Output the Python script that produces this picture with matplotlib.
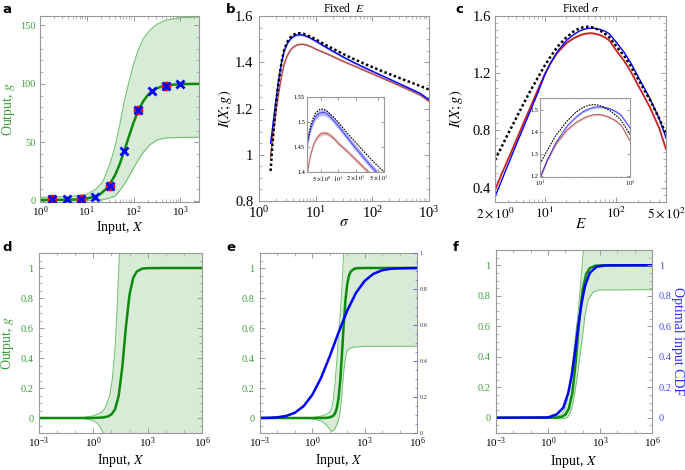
import numpy as np
import matplotlib.pyplot as plt
from matplotlib.ticker import (FixedLocator, FuncFormatter, MultipleLocator,
                               LogFormatterMathtext, NullFormatter)

plt.rcParams['font.family'] = ['Liberation Serif', 'DejaVu Serif']
plt.rcParams['mathtext.fontset'] = 'stix'

# ---------------- data ----------------
# panel a: dose-response curve with its band and the sampled points
a_x = [1, 2, 3, 5, 7, 10, 14, 20, 28, 40, 50, 63, 80, 100, 126, 160, 200,
       250, 320, 400, 500, 700, 1000, 1500, 2500]
a_g = [0.8, 0.84, 0.89, 1.07, 1.37, 2.03, 3.36, 6.24, 11.5, 21.7, 30.9, 42.5,
       55.4, 67.0, 77.1, 85.0, 90.3, 93.8, 96.3, 97.7, 98.6, 99.3, 99.7, 99.9, 100.0]
a_band_x = [1, 3.16, 6.3, 10, 15.8, 22.4, 31.6, 40, 50, 63, 80, 100, 126, 158,
            224, 316, 500, 1000, 2500]
a_upper = [3, 3.5, 4.3, 5.5, 10, 17, 32, 46, 64, 85, 102, 117, 129, 138, 146,
           151, 154.5, 156.5, 157]
a_lower = [0, 0.05, 0.15, 0.3, 0.6, 1.0, 2.5, 4, 8.5, 14, 21, 28, 35, 41, 48,
           52, 53.8, 54.2, 54.3]
a_red_x = [1.8, 7.5, 31, 126, 500]
a_red_g = [1.2, 1.8, 12.5, 77.3, 98.4]
a_blue_x = [1.8, 3.7, 7.5, 15, 31, 62, 126, 250, 500, 1000]
a_blue_g = [1.2, 1.2, 1.8, 2.9, 12.5, 43, 77.3, 93.5, 98.4, 99.5]

# panel b: information vs sigma at fixed E
b_sigma = [1.6, 1.7, 1.8, 2.0, 2.2, 2.5, 2.8, 3.2, 3.6, 4.0, 4.5, 5.0, 5.6,
           6.3, 7.0, 8.0, 9.0, 10, 12, 15, 20, 25, 30, 40, 50, 63, 80, 100,
           150, 200, 300, 500, 700, 1000]
b_black = [0.93, 1.02, 1.10, 1.22, 1.31, 1.40, 1.458, 1.49, 1.508, 1.518,
           1.524, 1.526, 1.525, 1.522, 1.517, 1.511, 1.505, 1.499, 1.488,
           1.475, 1.459, 1.447, 1.437, 1.422, 1.411, 1.400, 1.389, 1.379,
           1.361, 1.349, 1.332, 1.311, 1.297, 1.282]
b_blue = [1.05, 1.10, 1.15, 1.24, 1.315, 1.40, 1.452, 1.484, 1.501, 1.511,
          1.517, 1.519, 1.519, 1.516, 1.512, 1.505, 1.498, 1.492, 1.480,
          1.466, 1.448, 1.435, 1.424, 1.408, 1.396, 1.384, 1.372, 1.361,
          1.341, 1.327, 1.307, 1.282, 1.265, 1.238]
b_red = [0.99, 1.05, 1.10, 1.19, 1.26, 1.34, 1.395, 1.432, 1.453, 1.465,
         1.473, 1.477, 1.478, 1.477, 1.474, 1.469, 1.463, 1.457, 1.449,
         1.439, 1.425, 1.414, 1.405, 1.392, 1.382, 1.371, 1.360, 1.350,
         1.331, 1.318, 1.299, 1.275, 1.258, 1.231]
b_blue_spread = 0.006
b_red_spread = 0.004

# panel c: information vs E at fixed sigma
c_E = [2, 2.5, 3, 4, 5, 6, 8, 10, 12, 15, 20, 25, 30, 35, 40, 45, 50, 60,
       70, 80, 100, 130, 160, 200, 250, 300, 400, 500]
c_black = [0.594, 0.69, 0.77, 0.89, 0.985, 1.06, 1.17, 1.255, 1.315, 1.385,
           1.45, 1.49, 1.512, 1.522, 1.525, 1.522, 1.515, 1.497, 1.475,
           1.452, 1.39, 1.32, 1.25, 1.165, 1.08, 1.01, 0.885, 0.775]
c_blue = [0.337, 0.455, 0.552, 0.705, 0.82, 0.915, 1.065, 1.19, 1.27, 1.352,
          1.428, 1.468, 1.493, 1.506, 1.513, 1.515, 1.514, 1.506, 1.493,
          1.476, 1.418, 1.345, 1.272, 1.183, 1.093, 1.02, 0.885, 0.75]
c_red = [0.384, 0.50, 0.59, 0.735, 0.85, 0.94, 1.085, 1.195, 1.27, 1.345,
         1.41, 1.443, 1.462, 1.474, 1.479, 1.48, 1.477, 1.466, 1.45, 1.43,
         1.36, 1.285, 1.212, 1.122, 1.033, 0.958, 0.818, 0.67]
c_spread = 0.005

# panel d (x given as log10 of input)
d_u = [-3, -1, 0, 0.5, 0.8, 1.0, 1.2, 1.4, 1.6, 1.8, 2.0, 2.2, 2.4, 2.7,
       3.0, 4, 6]
d_g = [0, 0, 0.0003, 0.003, 0.01, 0.024, 0.058, 0.148, 0.34, 0.609, 0.824,
       0.934, 0.977, 0.9956, 0.999, 1, 1]
d_band_u = [-3, -1, -0.5, 0, 0.2, 0.4, 0.55, 0.7, 0.9, 1.05, 1.2, 1.3, 1.4,
            1.45, 1.6, 6]
d_upper = [0, 0.001, 0.004, 0.015, 0.025, 0.035, 0.05, 0.08, 0.15, 0.26,
           0.47, 0.7, 0.98, 1.12, 1.6, 3]
d_lower = [0, -0.001, -0.004, -0.018, -0.033, -0.065, -0.1, -0.2, -0.35,
           -0.5, -0.6, -0.7, -0.8, -0.9, -1, -1]

# panel e
e_u = [-3, 0, 0.5, 0.8, 1.0, 1.2, 1.3, 1.4, 1.5, 1.6, 1.7, 1.8, 1.9, 2.0,
       2.1, 2.2, 2.4, 2.6, 3, 6]
e_g = [0, 0, 0.0002, 0.001, 0.004, 0.015, 0.03, 0.064, 0.13, 0.25, 0.43,
       0.625, 0.788, 0.892, 0.949, 0.976, 0.995, 0.999, 1, 1]
e_cdf_u = [-3, -2.5, -2, -1.5, -1, -0.5, 0, 0.5, 1.0, 1.5, 2.0, 2.5, 3.0,
           3.5, 4.0, 4.5, 5, 6]
e_cdf = [0.0003, 0.0013, 0.0047, 0.0136, 0.035, 0.079, 0.155, 0.268, 0.412,
         0.569, 0.716, 0.834, 0.914, 0.961, 0.985, 0.995, 0.998, 1.0]
e_band_u = [-3, -1, 0, 0.5, 0.8, 1.0, 1.11, 1.2, 1.3, 1.4, 1.45, 1.5, 1.55,
            1.6, 1.65, 1.7, 1.74, 1.8, 1.85, 1.9, 2.0, 2.2, 2.5, 3, 6]
e_upper = [0, 0, 0.003, 0.012, 0.025, 0.04, 0.065, 0.12, 0.23, 0.38, 0.46,
           0.55, 0.62, 0.69, 0.78, 0.88, 0.97, 1.12, 1.25, 1.4, 1.7, 2, 2, 2, 2]
e_lower = [0, -0.001, -0.005, -0.02, -0.045, -0.075, -0.088, -0.085, -0.07,
           -0.045, -0.03, -0.01, 0.01, 0.05, 0.1, 0.16, 0.23, 0.31, 0.36,
           0.4, 0.45, 0.468, 0.474, 0.477, 0.479]

# panel f
f_u = [-3, 0, 0.5, 0.8, 1.0, 1.2, 1.4, 1.6, 1.7, 1.8, 2.0, 2.2, 2.4, 2.7,
       3.0, 4, 6]
f_g = [0, 0.0001, 0.0013, 0.007, 0.02, 0.059, 0.16, 0.365, 0.5, 0.635,
       0.84, 0.941, 0.98, 0.996, 0.999, 1, 1]
f_cdf_u = [-3, 0, 0.5, 0.88, 1.17, 1.36, 1.55, 1.74, 1.94, 2.13, 2.41, 2.8,
           3.3, 6]
f_cdf = [0, 0.002, 0.022, 0.066, 0.164, 0.273, 0.426, 0.6, 0.753, 0.862,
         0.95, 0.99, 0.999, 1]
f_band_u = [-3, 0, 0.5, 0.8, 0.98, 1.1, 1.27, 1.36, 1.5, 1.55, 1.71, 1.74,
            1.88, 1.94, 2.04, 2.13, 2.32, 2.61, 2.99, 6]
f_upper = [0, 0.001, 0.006, 0.025, 0.055, 0.11, 0.23, 0.3, 0.45, 0.5, 0.66,
           0.69, 0.88, 0.96, 1.1, 1.3, 2, 2, 2, 2]
f_lower = [0, -0.002, -0.006, -0.007, -0.004, 0.0, 0.03, 0.055, 0.13, 0.164,
           0.29, 0.317, 0.44, 0.49, 0.58, 0.666, 0.775, 0.825, 0.838, 0.84]

# ---------------- style ----------------
GREEN = '#0b8a0b'
EDGE_GREEN = '#72c172'
FILL_GREEN = '#d7ebd7'
TXT_GREEN = '#3c9e3c'
BLUE = '#0000ff'
RED_B = '#b5524e'
RED_C = '#cc2222'
FRAME = '#9a9a9a'

fmt_g = FuncFormatter(lambda v, p: f'{v:g}')

fig = plt.figure(figsize=(6.85, 4.70), dpi=100)


def add_px(l, t, r, b):
    return fig.add_axes([l / 685, 1 - b / 470, (r - l) / 685, (b - t) / 470])


def style_frame(ax, top=True, right=True):
    for s in ax.spines.values():
        s.set_color(FRAME)
        s.set_linewidth(0.8)
    ax.tick_params(which='both', direction='in', top=top, right=right, color=FRAME)
    ax.tick_params(which='major', length=3.5, width=0.7, pad=2)
    ax.tick_params(which='minor', length=2, width=0.5)


def decade_axis(ax):
    ax.set_xscale('log')
    ax.set_xlim(1e-3, 1e6)
    ax.xaxis.set_major_locator(FixedLocator([1e-3, 1, 1e3, 1e6]))
    ax.xaxis.set_major_formatter(LogFormatterMathtext())
    ax.xaxis.set_minor_locator(FixedLocator([10.0 ** k for k in range(-3, 7)]))
    ax.xaxis.set_minor_formatter(NullFormatter())
    ax.set_ylim(-0.1, 1.1)
    ax.set_yticks([0, 0.2, 0.4, 0.6, 0.8, 1])
    ax.yaxis.set_minor_locator(MultipleLocator(0.05))
    ax.yaxis.set_major_formatter(fmt_g)
    ax.tick_params(axis='x', labelsize=8)
    ax.tick_params(axis='y', labelsize=7.5, labelcolor=TXT_GREEN, pad=4)
    ax.set_xlabel('Input, $X$', fontsize=10)
    ax.xaxis.set_label_coords(0.5, -0.105)


def band_panel(ax, bu, lo, up, gu, g):
    bx = 10.0 ** np.array(bu)
    ax.fill_between(bx, lo, up, color=FILL_GREEN, lw=0)
    ax.plot(bx, up, color=EDGE_GREEN, lw=0.7)
    ax.plot(bx, lo, color=EDGE_GREEN, lw=0.7)
    ax.plot(10.0 ** np.array(gu), g, color=GREEN, lw=1.8)


def inset_style(ins):
    style_frame(ins)
    ins.tick_params(labelsize=4.5, pad=1.5)
    ins.tick_params(which='major', length=2)
    ins.tick_params(which='minor', length=1)


# ---------------- panel a ----------------
ax = add_px(40, 16, 199, 202)
style_frame(ax)
ax.fill_between(a_band_x, a_lower, a_upper, color=FILL_GREEN, lw=0)
ax.plot(a_band_x, a_upper, color=EDGE_GREEN, lw=0.8)
ax.plot(a_band_x, a_lower, color=EDGE_GREEN, lw=0.8)
ax.plot(a_x, a_g, color=GREEN, lw=1.8)
ax.plot(a_red_x, a_red_g, 'o', color='red', ms=6, zorder=4)
ax.plot(a_blue_x, a_blue_g, 'x', color=BLUE, ms=5.5, mew=2, zorder=5)
ax.set_xscale('log')
ax.set_xlim(1, 2500)
ax.set_ylim(-1, 158)
ax.set_yticks([0, 50, 100, 150])
ax.yaxis.set_minor_locator(MultipleLocator(10))
ax.tick_params(axis='y', labelsize=7.5, labelcolor=TXT_GREEN, pad=3)
ax.tick_params(axis='x', labelsize=8)
ax.set_xlabel('Input, $X$', fontsize=10)
ax.xaxis.set_label_coords(0.5, -0.093)
ax.set_ylabel('Output, $g$', fontsize=10, color=TXT_GREEN)
ax.yaxis.set_label_coords(-0.145, 0.5)

# ---------------- panel b ----------------
ax = add_px(259, 16, 429, 201)
style_frame(ax)
bs = np.array(b_sigma)
ax.fill_between(bs, np.array(b_red) - b_red_spread, np.array(b_red) + b_red_spread,
                color=RED_B, alpha=0.3, lw=0)
ax.plot(bs, b_red, color=RED_B, lw=1.1)
ax.fill_between(bs, np.array(b_blue) - b_blue_spread, np.array(b_blue) + b_blue_spread,
                color=BLUE, alpha=0.25, lw=0)
ax.plot(bs, b_blue, color=BLUE, lw=1.0)
ax.plot(bs, b_black, color='black', lw=1.8, ls=(0, (1, 1)))
ax.set_xscale('log')
ax.set_xlim(1, 1000)
ax.set_ylim(0.8, 1.6)
ax.set_yticks([0.8, 1.0, 1.2, 1.4, 1.6])
ax.yaxis.set_minor_locator(MultipleLocator(0.05))
ax.yaxis.set_major_formatter(fmt_g)
ax.tick_params(labelsize=10.5)
ax.tick_params(axis='y', pad=4)
ax.tick_params(axis='x', pad=3)
ax.set_xlabel(r'$\sigma$', fontsize=11)
ax.xaxis.set_label_coords(0.5, -0.08)
ax.set_ylabel(r'$I(X;g)$', fontsize=10.5)
ax.yaxis.set_label_coords(-0.15, 0.5)
ax.set_title(r'Fixed  $E$', fontsize=8.5, pad=3)

ins = add_px(307, 97, 384, 172)
inset_style(ins)
ins.fill_between(bs, np.array(b_red) - b_red_spread, np.array(b_red) + b_red_spread,
                 color=RED_B, alpha=0.35, lw=0)
ins.plot(bs, b_red, color=RED_B, lw=0.8, alpha=0.8)
ins.fill_between(bs, np.array(b_blue) - b_blue_spread, np.array(b_blue) + b_blue_spread,
                 color=BLUE, alpha=0.3, lw=0)
ins.plot(bs, b_blue, color=BLUE, lw=0.6, alpha=0.7)
ins.plot(bs, b_black, color='black', lw=0.8, ls=(0, (1.5, 1)))
ins.set_xscale('log')
ins.set_xlim(2.8, 63)
ins.set_ylim(1.4, 1.55)
ins.xaxis.set_major_locator(FixedLocator([5, 10, 20, 50]))
ins.xaxis.set_major_formatter(FuncFormatter(
    lambda v, p: {5: r'$5\times10^{0}$', 10: r'$10^{1}$', 20: r'$2\times10^{1}$',
                  50: r'$5\times10^{1}$'}.get(int(round(v)), '')))
ins.xaxis.set_minor_formatter(NullFormatter())
ins.set_yticks([1.4, 1.45, 1.5, 1.55])
ins.yaxis.set_major_formatter(fmt_g)

# ---------------- panel c ----------------
ax = add_px(495, 16, 666, 202)
style_frame(ax)
cE = np.array(c_E)
ax.fill_between(cE, np.array(c_red) - c_spread, np.array(c_red) + c_spread,
                color=RED_C, alpha=0.3, lw=0)
ax.plot(cE, c_red, color=RED_C, lw=1.3)
ax.plot(cE, c_blue, color=BLUE, lw=1.0)
ax.plot(cE, c_black, color='black', lw=1.8, ls=(0, (1, 1)))
ax.set_xscale('log')
ax.set_xlim(2, 500)
ax.set_ylim(0.3, 1.6)
ax.set_yticks([0.4, 0.8, 1.2, 1.6])
ax.yaxis.set_minor_locator(MultipleLocator(0.05))
ax.yaxis.set_major_formatter(fmt_g)
ax.xaxis.set_major_locator(FixedLocator([2, 10, 100, 500]))
ax.xaxis.set_major_formatter(FuncFormatter(
    lambda v, p: {2: r'$2\times10^{0}$', 10: r'$10^{1}$', 100: r'$10^{2}$',
                  500: r'$5\times10^{2}$'}.get(int(round(v)), '')))
ax.xaxis.set_minor_formatter(NullFormatter())
ax.tick_params(axis='y', labelsize=10.5, pad=3)
ax.tick_params(axis='x', labelsize=9.5, pad=3)
ax.set_xlabel(r'$E$', fontsize=11)
ax.xaxis.set_label_coords(0.5, -0.08)
ax.set_ylabel(r'$I(X;g)$', fontsize=10.5)
ax.yaxis.set_label_coords(-0.175, 0.5)
ax.set_title(r'Fixed $\sigma$', fontsize=8.5, pad=3)

ins = add_px(540, 98, 630, 177)
inset_style(ins)
ins.fill_between(cE, np.array(c_red) - c_spread, np.array(c_red) + c_spread,
                 color=RED_B, alpha=0.35, lw=0)
ins.plot(cE, c_red, color=RED_B, lw=0.8, alpha=0.8)
ins.fill_between(cE, np.array(c_blue) - c_spread, np.array(c_blue) + c_spread,
                 color=BLUE, alpha=0.3, lw=0)
ins.plot(cE, c_blue, color=BLUE, lw=0.6, alpha=0.7)
ins.plot(cE, c_black, color='black', lw=0.8, ls=(0, (1.5, 1)))
ins.set_xscale('log')
ins.set_xlim(10, 100)
ins.set_ylim(1.195, 1.555)
ins.xaxis.set_major_locator(FixedLocator([10, 100]))
ins.xaxis.set_major_formatter(LogFormatterMathtext())
ins.xaxis.set_minor_formatter(NullFormatter())
ins.set_yticks([1.2, 1.3, 1.4, 1.5])
ins.yaxis.set_major_formatter(fmt_g)

# ---------------- panel d ----------------
ax = add_px(39, 253, 202, 433)
style_frame(ax)
band_panel(ax, d_band_u, d_lower, d_upper, d_u, d_g)
decade_axis(ax)
ax.set_ylabel('Output, $g$', fontsize=10, color=TXT_GREEN)
ax.yaxis.set_label_coords(-0.14, 0.5)

# ---------------- panel e ----------------
ax = add_px(260, 253, 417, 433)
style_frame(ax, right=False)
band_panel(ax, e_band_u, e_lower, e_upper, e_u, e_g)
ax.plot(10.0 ** np.array(e_cdf_u), e_cdf, color=BLUE, lw=1.8)
decade_axis(ax)
ax2 = ax.twinx()
ax2.set_ylim(0, 1)
ax2.set_yticks([0, 0.2, 0.4, 0.6, 0.8, 1])
ax2.yaxis.set_minor_locator(MultipleLocator(0.05))
ax2.yaxis.set_major_formatter(fmt_g)
for s in ax2.spines.values():
    s.set_visible(False)
ax2.tick_params(which='both', direction='in', color='#6666ff', labelsize=4.5,
                labelcolor='#333333', pad=2)
ax2.tick_params(which='major', length=3, width=0.7)
ax2.tick_params(which='minor', length=1.5, width=0.5)

# ---------------- panel f ----------------
ax = add_px(496, 250, 652, 433)
style_frame(ax, right=False)
band_panel(ax, f_band_u, f_lower, f_upper, f_u, f_g)
ax.plot(10.0 ** np.array(f_cdf_u), f_cdf, color=BLUE, lw=1.8)
decade_axis(ax)
ax.xaxis.set_label_coords(0.5, -0.11)
ax2 = ax.twinx()
ax2.set_ylim(-0.1, 1.1)
ax2.set_yticks([0, 0.2, 0.4, 0.6, 0.8, 1])
ax2.yaxis.set_minor_locator(MultipleLocator(0.05))
ax2.yaxis.set_major_formatter(fmt_g)
for s in ax2.spines.values():
    s.set_visible(False)
ax2.tick_params(which='both', direction='in', color=FRAME, labelsize=7.5,
                labelcolor='#4b4bff', pad=5)
ax2.tick_params(which='major', length=3.5, width=0.7)
ax2.tick_params(which='minor', length=2, width=0.5)
ax2.set_ylabel('Optimal input CDF', fontsize=10, color='#2b2bff', rotation=270,
               va='center')
ax2.yaxis.set_label_coords(1.165, 0.5)

# ---------------- panel letters ----------------
for lab, x, y in [('a', 2, 3), ('b', 226, 3), ('c', 455, 3),
                  ('d', 2, 241), ('e', 226, 241), ('f', 453, 241)]:
    fig.text(x / 685, 1 - y / 470, lab, fontsize=9.5, fontweight='bold',
             family='DejaVu Sans', va='top', ha='left')

fig.savefig('out.png', dpi=100)
